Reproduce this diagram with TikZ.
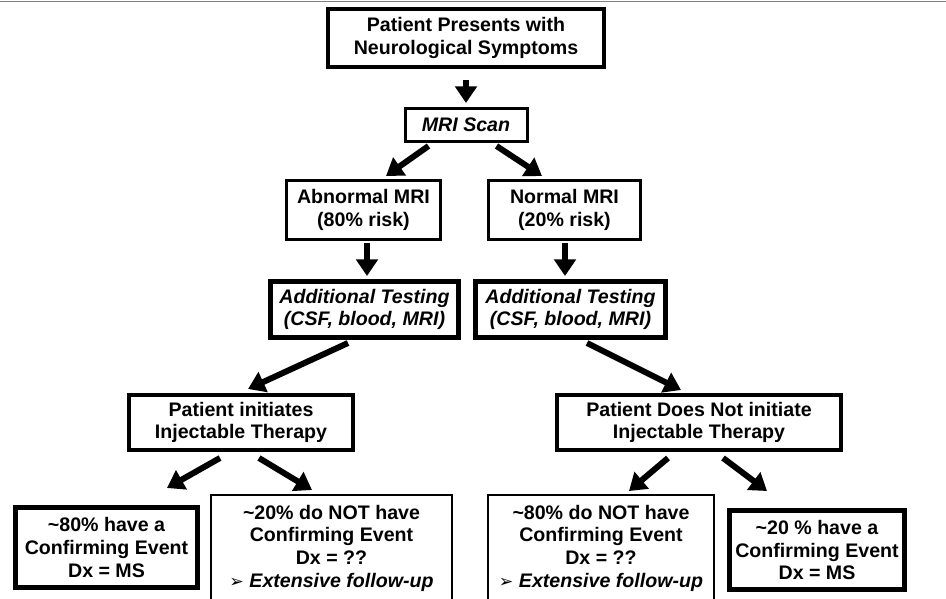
\documentclass[tikz,border=0pt]{standalone}
\usepackage{fontspec}
\setmainfont{Liberation Sans}
\newfontfamily\symfont{DejaVu Sans}
\usepackage{tikz}
\usetikzlibrary{positioning, arrows.meta, calc}
\newcommand{\lblfont}{\fontsize{14.7}{17}\selectfont\bfseries}
\tikzset{box_t/.style={draw, line width=2.25pt, align=center, inner sep=2pt, font=\lblfont},box_mid/.style={box_t, line width=3pt},box_heavy/.style={box_t, line width=3.75pt},box_light/.style={box_t, line width=1.5pt, inner xsep=2pt, inner ysep=7.5pt},ital/.style={font=\lblfont\itshape},flow/.style={-{Triangle[length=12.5pt, width=16pt]}, line width=4.5pt}}

\begin{document}
\begin{tikzpicture}[x=0.75pt, y=-0.75pt]
  \useasboundingbox (0,0) rectangle (946,599);
  \draw[gray, line width=1pt] (0,1.5) -- (946,1.5);

  % Presentation
  \node[box_mid, minimum width=207pt, minimum height=43.5pt] (pres) at (466,38)
    {Patient Presents with\\ Neurological Symptoms};
  \node[box_t, ital, minimum width=91.5pt, minimum height=24.75pt, below=28.5pt of pres] (mri) {MRI Scan};

  % MRI result
  \node[box_t, minimum width=115.5pt, minimum height=44.25pt] (abn) at (363.5,210) {Abnormal MRI\\ (80\% risk)};
  \node[box_t, minimum width=114pt, minimum height=44.25pt] (nrm) at (564.5,210) {Normal MRI\\ (20\% risk)};
  \node[box_heavy, ital, minimum width=141pt, minimum height=42pt, below=28.5pt of abn, xshift=0.75pt] (testl)
    {Additional Testing\\ (CSF, blood, MRI)};
  \node[box_heavy, ital, minimum width=142.5pt, minimum height=42pt, below=28.5pt of nrm, xshift=4.5pt] (testr)
    {Additional Testing\\ (CSF, blood, MRI)};

  % Therapy decision
  \node[box_mid, minimum width=168pt, minimum height=41.25pt] (init) at (241,422.5)
    {Patient initiates\\ Injectable Therapy};
  \node[box_mid, minimum width=213pt, minimum height=41.25pt] (noinit) at (699,422.5)
    {Patient Does Not initiate\\ Injectable Therapy};

  % Outcomes
  \node[box_heavy, minimum width=136.5pt, minimum height=60pt] (ms1) at (106.5,547.5)
    {\textasciitilde 80\% have a\\ Confirming Event\\ Dx = MS};
  \node[box_light, minimum width=180.75pt, anchor=north] (unk1) at (331.5,494)
    {\textasciitilde 20\% do NOT have\\ Confirming Event\\ Dx = ??\\ {\symfont\fontsize{13}{13}\selectfont ➢}~\textit{Extensive follow-up}};
  \node[box_light, minimum width=169.5pt, anchor=north] (unk2) at (601,494)
    {\textasciitilde 80\% do NOT have\\ Confirming Event\\ Dx = ??\\ {\symfont\fontsize{13}{13}\selectfont ➢}~\textit{Extensive follow-up}};
  \node[box_heavy, minimum width=131.25pt, minimum height=59.25pt] (ms2) at (817,550)
    {\textasciitilde 20 \% have a\\ Confirming Event\\ Dx = MS};

  % arrows
  \draw[flow] ($(pres.south)+(0,11)$) -- ($(mri.north)+(0,-4)$);
  \draw[flow] ($(mri.south)+(-37.5,3)$) -- ($(abn.north)+(22.5,-3)$);
  \draw[flow] ($(mri.south)+(30.5,3)$) -- ($(nrm.north)+(-22.5,-3)$);
  \draw[flow] ($(abn.south)+(3.5,2)$) -- ($(testl.north)+(2.5,-3)$);
  \draw[flow] ($(nrm.south)+(0.5,2)$) -- ($(testr.north)+(-5.5,-3)$);
  \draw[flow] ($(testl.south)+(-16.5,3)$) -- ($(init.north)+(7,-4)$);
  \draw[flow] ($(testr.south)+(16.5,3)$) -- ($(noinit.north)+(-18,-3)$);
  \draw[flow] ($(init.south)+(-21,6)$) -- ($(ms1.north)+(60.5,-17)$);
  \draw[flow] ($(init.south)+(18,6)$) -- ($(unk1.north)+(-19.5,-4)$);
  \draw[flow] ($(noinit.south)+(-31,6)$) -- ($(unk2.north)+(28,-3)$);
  \draw[flow] ($(noinit.south)+(24,6)$) -- ($(ms2.north)+(-50,-17)$);
\end{tikzpicture}
\end{document}
